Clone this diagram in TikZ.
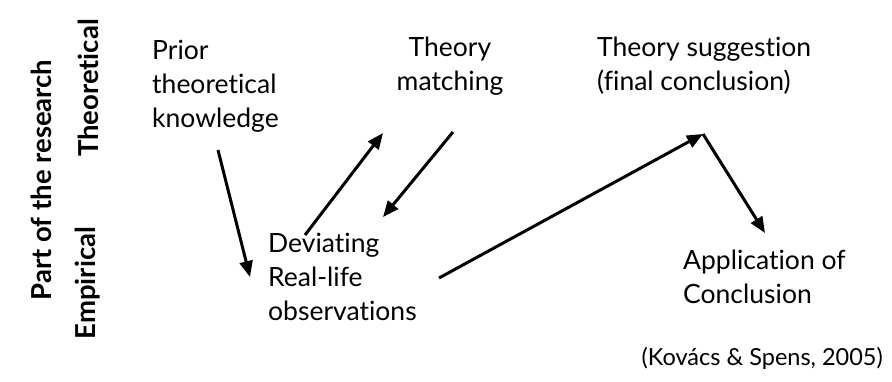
\documentclass[tikz,border=0pt]{standalone}
\usepackage{fontspec}
\setmainfont{Lato}[Ligatures={NoCommon,NoContextual}]
\usetikzlibrary{arrows.meta}

\begin{document}
\begin{tikzpicture}[x=1pt,y=-1pt,
  txt/.style={inner sep=0pt, font=\fontsize{26.5}{34}\selectfont, align=left},
  axislabel/.style={inner sep=0pt, rotate=90, font=\fontsize{27.5}{30}\selectfont\bfseries},
  flow/.style={line width=3pt, -{Triangle[length=16pt,width=13pt]}}
]
  % canvas
  \useasboundingbox (0,0) rectangle (892,381);
  \fill[white] (0,0) rectangle (892,381);

  % vertical axis labels
  \node[axislabel] (part) at (41,180) {Part of the research};
  \node[axislabel] (theo) at (88,88) {Theoretical};
  \node[axislabel] (emp)  at (88,283) {Empirical};

  % stages of the research process
  \node[txt, anchor=north west] (prior) at (152,40) {Prior\\theoretical\\knowledge};
  \node[txt, anchor=north, align=center] (match) at (450,37) {Theory\\matching};
  \node[txt, anchor=north west] (sugg) at (597,37) {Theory suggestion\\(final conclusion)};
  \node[txt, anchor=north west] (dev) at (268,233) {Deviating\\Real-life\\observations};
  \node[txt, anchor=north west] (app) at (683,250) {Application of\\Conclusion};

  % source
  \node[inner sep=0pt, anchor=east, font=\fontsize{23.5}{28}\selectfont] (cite) at (883,358) {(Kovács \& Spens, 2005)};

  % flow between the stages
  \draw[flow] ([shift={(66,110)}]prior.north west) -- ([shift={(-18,44)}]dev.north west);
  \draw[flow] ([shift={(37,2)}]dev.north west) -- ([shift={(-67,96)}]match.north);
  \draw[flow] ([shift={(3,95)}]match.north) -- ([shift={(115,-16)}]dev.north west);
  \draw[flow] ([shift={(171,45)}]dev.north west) -- ([shift={(106,97)}]sugg.north west);
  \draw[flow] ([shift={(106,97)}]sugg.north west) -- ([shift={(82,-17)}]app.north west);
\end{tikzpicture}
\end{document}
